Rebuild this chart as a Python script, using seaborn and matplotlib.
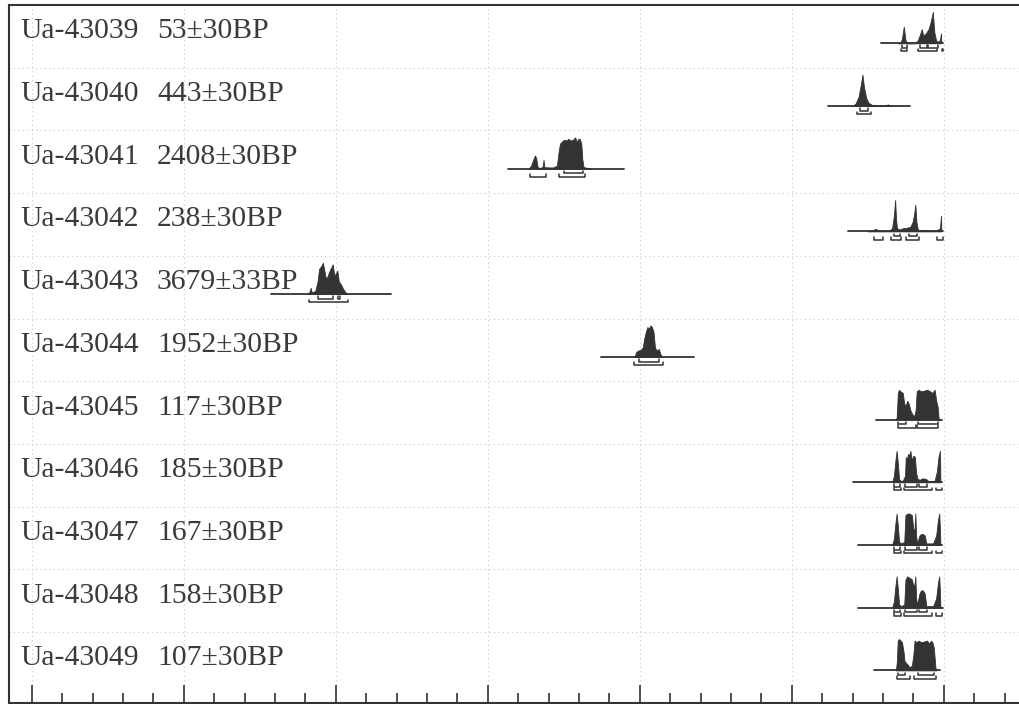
import numpy as np
import pandas as pd
import matplotlib
matplotlib.use("Agg")
import matplotlib.pyplot as plt
from matplotlib.ticker import MultipleLocator
import seaborn as sns

# lab codes and radiocarbon ages
labs = ["Ua-43039", "Ua-43040", "Ua-43041", "Ua-43042", "Ua-43043", "Ua-43044",
        "Ua-43045", "Ua-43046", "Ua-43047", "Ua-43048", "Ua-43049"]
ages = ["53±30BP", "443±30BP", "2408±30BP", "238±30BP", "3679±33BP", "1952±30BP",
        "117±30BP", "185±30BP", "167±30BP", "158±30BP", "107±30BP"]

# extent of the thin baseline under each distribution (cal years, BC negative)
line_start = [1586, 1237, -868, 1368, -2428, -257, 1553, 1401, 1434, 1434, 1539]
line_end = [1993, 1776, -105, 1993, -1638, 355, 1987, 1987, 1987, 1993, 1974]

# calibrated probability shapes (relative heights)
yr_39 = [1700, 1715, 1725, 1737, 1748, 1760, 1810, 1830, 1845, 1855, 1865, 1880, 1900, 1915, 1928, 1938, 1950, 1965, 1975, 1982, 1984]
pr_39 = [0, 0, 0.15, 0.53, 0.1, 0, 0, 0.1, 0.3, 0.45, 0.25, 0.3, 0.45, 0.7, 1.0, 0.35, 0.08, 0.05, 0.1, 0.32, 0]
yr_40 = [1400, 1420, 1440, 1455, 1465, 1475, 1490, 1505, 1530, 1600, 1635, 1640, 1660]
pr_40 = [0, 0.08, 0.3, 0.7, 1.0, 0.6, 0.25, 0.1, 0.03, 0.01, 0.05, 0.01, 0]
yr_41 = [-730, -715, -700, -690, -682, -672, -660, -640, -633, -628, -600, -570, -545, -535, -525, -515, -505, -495, -485, -470, -455, -440, -425, -415, -405, -395, -385, -378, -370, -340, -320]
pr_41 = [0, 0.1, 0.3, 0.42, 0.35, 0.05, 0.02, 0.05, 0.28, 0.05, 0.04, 0.04, 0.1, 0.5, 0.8, 0.85, 0.9, 0.92, 0.9, 0.95, 0.9, 0.92, 1.0, 0.85, 0.95, 0.95, 0.8, 0.3, 0.05, 0.02, 0]
yr_42 = [1500, 1530, 1550, 1565, 1600, 1640, 1660, 1672, 1680, 1686, 1692, 1710, 1730, 1760, 1780, 1795, 1805, 1813, 1820, 1830, 1900, 1950, 1975, 1982, 1984]
pr_42 = [0, 0.03, 0.08, 0.05, 0.02, 0.02, 0.1, 0.5, 1.0, 0.4, 0.1, 0.06, 0.1, 0.12, 0.15, 0.3, 0.55, 0.85, 0.3, 0.05, 0.02, 0.02, 0.1, 0.5, 0]
yr_43 = [-2185, -2175, -2165, -2158, -2135, -2120, -2110, -2095, -2085, -2075, -2065, -2055, -2045, -2030, -2020, -2010, -2000, -1990, -1980, -1965, -1950, -1935, -1920]
pr_43 = [0, 0.05, 0.2, 0.05, 0.1, 0.4, 0.8, 0.9, 1.0, 0.75, 0.5, 0.55, 0.7, 0.85, 0.95, 0.6, 0.65, 0.75, 0.4, 0.3, 0.15, 0.05, 0]
yr_44 = [-40, -30, -25, -10, 5, 20, 30, 40, 50, 60, 70, 80, 90, 100, 110, 125, 135, 145]
pr_44 = [0, 0.05, 0.15, 0.2, 0.22, 0.3, 0.6, 0.8, 0.95, 0.9, 1.0, 0.95, 0.8, 0.3, 0.2, 0.25, 0.1, 0]
yr_45 = [1680, 1690, 1698, 1705, 1715, 1730, 1740, 1750, 1760, 1770, 1780, 1795, 1805, 1815, 1822, 1835, 1850, 1870, 1890, 1910, 1925, 1940, 1950, 1960, 1966, 1972]
pr_45 = [0, 0.05, 0.85, 0.95, 0.9, 0.85, 0.5, 0.45, 0.6, 0.5, 0.3, 0.15, 0.1, 0.3, 0.9, 0.95, 0.9, 0.92, 0.95, 0.9, 0.85, 0.95, 0.6, 0.4, 0.05, 0]
yr_46 = [1660, 1672, 1682, 1690, 1698, 1706, 1715, 1730, 1745, 1750, 1758, 1765, 1772, 1780, 1790, 1800, 1810, 1818, 1828, 1845, 1855, 1870, 1885, 1900, 1940, 1955, 1965, 1975, 1978]
pr_46 = [0, 0.2, 0.7, 1.0, 0.6, 0.1, 0.05, 0.05, 0.2, 0.8, 0.75, 0.9, 0.85, 1.0, 0.7, 0.85, 0.8, 0.3, 0.1, 0.08, 0.12, 0.12, 0.1, 0.03, 0.05, 0.35, 0.8, 1.0, 0]
yr_47 = [1660, 1672, 1682, 1690, 1698, 1706, 1720, 1740, 1748, 1760, 1775, 1790, 1800, 1808, 1813, 1818, 1825, 1840, 1850, 1862, 1875, 1885, 1930, 1950, 1962, 1970, 1975, 1978]
pr_47 = [0, 0.2, 0.7, 1.0, 0.6, 0.1, 0.05, 0.1, 0.95, 1.0, 1.0, 0.95, 0.5, 0.5, 1.0, 0.3, 0.05, 0.3, 0.35, 0.35, 0.3, 0.05, 0.05, 0.3, 0.8, 1.0, 0.5, 0]
yr_48 = [1660, 1672, 1682, 1690, 1698, 1706, 1720, 1740, 1748, 1760, 1775, 1790, 1800, 1808, 1813, 1818, 1825, 1840, 1850, 1862, 1875, 1885, 1930, 1950, 1962, 1970, 1975, 1978]
pr_48 = [0, 0.2, 0.7, 1.0, 0.6, 0.1, 0.05, 0.1, 0.9, 1.0, 0.95, 0.9, 0.7, 0.75, 1.0, 0.3, 0.1, 0.45, 0.55, 0.55, 0.45, 0.05, 0.05, 0.3, 0.8, 1.0, 0.5, 0]
yr_49 = [1685, 1692, 1697, 1705, 1715, 1725, 1735, 1742, 1750, 1760, 1775, 1790, 1800, 1808, 1820, 1835, 1850, 1870, 1890, 1905, 1915, 1925, 1935, 1945, 1950]
pr_49 = [0, 0.3, 0.95, 1.0, 0.95, 0.9, 0.6, 0.3, 0.25, 0.2, 0.1, 0.15, 0.5, 0.95, 0.9, 0.95, 0.9, 0.92, 0.95, 0.85, 0.95, 0.9, 0.7, 0.1, 0]
dens_years = [yr_39, yr_40, yr_41, yr_42, yr_43, yr_44, yr_45, yr_46, yr_47, yr_48, yr_49]
dens_probs = [pr_39, pr_40, pr_41, pr_42, pr_43, pr_44, pr_45, pr_46, pr_47, pr_48, pr_49]

# 68.2% and 95.4% ranges (cal years)
range_68 = [
    [(1724, 1757), (1842, 1890), (1895, 1960)],
    [(1447, 1500)],
    [(-500, -375)],
    [(1670, 1710), (1770, 1822)],
    [(-2118, -2020), (-1987, -1974)],
    [(-7, 125)],
    [(1697, 1750), (1829, 1961)],
    [(1671, 1711), (1743, 1822), (1835, 1890)],
    [(1671, 1711), (1743, 1822), (1835, 1890)],
    [(1671, 1711), (1743, 1822), (1835, 1890)],
    [(1697, 1743), (1829, 1934)],
]
range_95 = [
    [(1720, 1760), (1830, 1955), (1988, 1993)],
    [(1430, 1520)],
    [(-724, -618), (-533, -362)],
    [(1540, 1600), (1650, 1717), (1750, 1835), (1954, 1993)],
    [(-2178, -1921)],
    [(-40, 151)],
    [(1697, 1816), (1822, 1961)],
    [(1671, 1716), (1737, 1921), (1947, 1987)],
    [(1671, 1716), (1737, 1921), (1947, 1987)],
    [(1671, 1716), (1737, 1921), (1947, 1987)],
    [(1691, 1776), (1803, 1947)],
]

dark = "#333333"
grid_col = "#c8c8c8"

sns.set_style("white")
plt.rcParams['font.family'] = ['Liberation Serif', 'DejaVu Serif']

fig = plt.figure(figsize=(10.19, 7.04), dpi=100)
ax = fig.add_axes([9 / 1019, 1 / 704, 1010 / 1019, 698 / 704])

n = len(labs)
base_off = 0.61
scale = 0.5

for i in range(n):
    base = i + base_off
    # thin baseline
    seg = pd.DataFrame({"year": [line_start[i], line_end[i]], "y": [base, base]})
    sns.lineplot(data=seg, x="year", y="y", ax=ax, color=dark, lw=1.3, legend=False)
    # distribution
    yrs = np.array(dens_years[i])
    prs = np.array(dens_probs[i])
    ax.fill_between(yrs, base, base - prs * scale, color=dark, lw=0.6, edgecolor=dark)
    # range brackets
    for off, rngs in [(0.075, range_68[i]), (0.13, range_95[i])]:
        for a, b in rngs:
            yb = base + off
            ax.plot([a, a, b, b], [yb - 0.04, yb, yb, yb - 0.04], color=dark, lw=1.1)
    ax.text(11 / 1010, i + 0.42, labs[i], transform=ax.get_yaxis_transform(),
            fontsize=21.3, color="#3a3a3a", va="center", ha="left")
    ax.text(148 / 1010, i + 0.42, ages[i], transform=ax.get_yaxis_transform(),
            fontsize=21.3, color="#3a3a3a", va="center", ha="left")

# dotted separators between the rows
for i in range(1, n):
    ax.axhline(i, color=grid_col, ls=(0, (1, 3)), lw=0.8, zorder=0)

ax.set_xlim(-4150, 2495)
ax.set_ylim(11.13, 0)
ax.xaxis.set_major_locator(MultipleLocator(1000))
ax.xaxis.set_minor_locator(MultipleLocator(200))
ax.xaxis.grid(True, which="major", color=grid_col, ls=(0, (1, 3)), lw=0.8)
ax.set_axisbelow(True)
ax.tick_params(axis="x", which="major", direction="in", length=13, width=1.2, color=dark,
               bottom=True, labelbottom=False)
ax.tick_params(axis="x", which="minor", direction="in", length=7, width=1.2, color=dark,
               bottom=True)
ax.tick_params(axis="y", left=False, labelleft=False)
ax.set_xlabel("")
ax.set_ylabel("")
sns.despine(ax=ax, right=True, top=False, left=False, bottom=False)
for s in ["left", "top", "bottom"]:
    ax.spines[s].set_color(dark)
    ax.spines[s].set_linewidth(1.5)

fig.savefig("out.png", dpi=100)
